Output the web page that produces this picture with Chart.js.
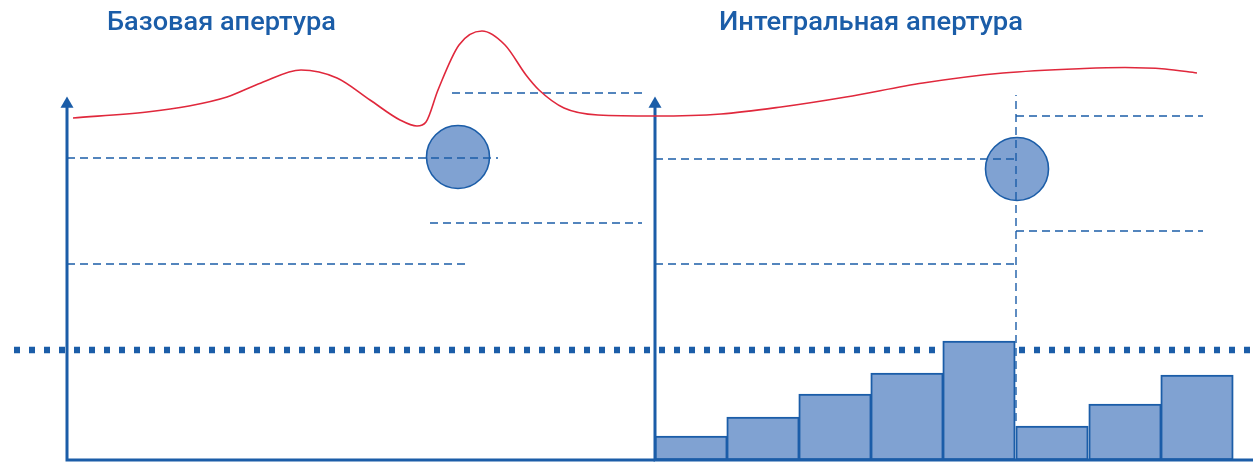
<!DOCTYPE html>
<html><head><meta charset="utf-8">
<script src="https://cdn.jsdelivr.net/npm/chart.js@4"></script>
<style>html,body{margin:0;padding:0;background:#fff}#wrap{width:1253px;height:463px;position:relative}</style>
</head><body><div id="wrap"><canvas id="c"></canvas></div>
<script>
// ---- data (units: x along the drawing, y up from the baseline) ----
const titles = ['Базовая апертура', 'Интегральная апертура'];
const titleX = [107, 719];     // left edge of each title
const titleY = 430.5;          // baseline of the titles

// histogram (integral aperture)
const binCenters = [691, 763, 835, 907, 979, 1052, 1125, 1197];
const binHeights = [24, 43, 66, 87, 119, 34, 56, 85];

// red response curve
const curveX = [73, 147, 189, 227, 261, 301, 337, 370, 400, 417, 426, 438, 459, 482, 505, 526, 539, 564, 598, 655, 721, 781, 846, 923, 1003, 1084, 1125, 1165, 1197];
const curveY = [342, 348, 354, 363, 377, 390, 382, 360, 340, 334, 338, 370, 415, 429, 415, 385, 370, 352, 345, 344, 346, 353, 363, 377, 387, 391.5, 392.5, 391, 387];

// circles (spot positions)
const spotX = [458, 1017];
const spotY = [303, 291];

// dashed reference levels: [y, xStart, xEnd]
const dashLevels = [
  [302, 67, 498], [367, 452, 642], [237, 430, 642], [196, 67, 467],
  [301, 655, 1016], [196, 655, 1016], [344, 1016, 1203], [229, 1016, 1203]
];
const dashVertical = [1016, 39, 365]; // x, yStart, yEnd
const thresholdLevel = 110;           // thick dotted line
const thresholdRange = [14, 1253];

// axes
const axisLeftX = 67, axisRightX = 655, axisTop = 356, axisEnd = 1253;

const BLUE = '#1b5da8', FILL = '#80a2d2', RED = '#e0283c';

const datasets = [];
// red curve (top)
datasets.push({type:'line', data: curveX.map((x,i)=>({x, y: curveY[i]})), borderColor: RED, borderWidth: 1.6,
  pointRadius: 0, cubicInterpolationMode: 'monotone', fill: false, order: 0});
// axes
datasets.push({type:'line', data: [{x:axisLeftX,y:axisTop},{x:axisLeftX,y:0},{x:axisRightX,y:0}], borderColor: BLUE, borderWidth: 3, pointRadius: 0, tension: 0, order: 1});
datasets.push({type:'line', data: [{x:axisRightX,y:axisTop},{x:axisRightX,y:0},{x:axisEnd,y:0}], borderColor: BLUE, borderWidth: 3, pointRadius: 0, tension: 0, order: 1});
datasets.push({type:'line', data: [{x:axisLeftX,y:axisTop},{x:axisRightX,y:axisTop}], showLine: false, pointStyle: 'triangle', pointRadius: 7.5, pointBackgroundColor: BLUE, pointBorderColor: BLUE, pointBorderWidth: 0, order: 1});
// dashed levels
dashLevels.forEach(([y,x0,x1]) => datasets.push({type:'line', data:[{x:x0,y},{x:x1,y}], borderColor: BLUE, borderWidth: 1.4, borderDash:[8,5], pointRadius:0, order: 2}));
datasets.push({type:'line', data:[{x:dashVertical[0],y:dashVertical[1]},{x:dashVertical[0],y:dashVertical[2]}], borderColor: BLUE, borderWidth: 1.4, borderDash:[8,5], pointRadius:0, order: 2});
// circles
datasets.push({type:'bubble', data: spotX.map((x,i)=>({x, y: spotY[i], r: 31.5})), backgroundColor: FILL, borderColor: BLUE, borderWidth: 1.6, order: 3});
// bars
datasets.push({type:'bar', data: binCenters.map((x,i)=>({x, y: binHeights[i]})), backgroundColor: FILL, borderColor: BLUE, borderWidth: 2,
  borderSkipped: false, barThickness: 72.5, order: 4});
// thick dotted threshold
datasets.push({type:'line', data:[{x:thresholdRange[0],y:thresholdLevel},{x:thresholdRange[1],y:thresholdLevel}], borderColor: BLUE, borderWidth: 6.5, borderDash:[6,9], borderCapStyle:'butt', pointRadius:0, order: 5});

const titlePlugin = {
  id: 'titles',
  afterDraw(chart) {
    const {ctx, scales:{x, y}} = chart;
    const widths = [229, 304];
    ctx.save();
    ctx.fillStyle = BLUE;
    ctx.font = '500 26px Roboto';
    ctx.textBaseline = 'alphabetic';
    ctx.textAlign = 'left';
    titles.forEach((t, i) => {
      const px = x.getPixelForValue(titleX[i]), py = y.getPixelForValue(titleY);
      const w = ctx.measureText(t).width;
      const s = widths[i] / w;
      ctx.save();
      ctx.translate(px, py);
      ctx.scale(s, 1);
      ctx.fillText(t, 0, 0);
      ctx.restore();
    });
    ctx.restore();
  }
};

new Chart(document.getElementById('c'), {
  type: 'scatter',
  data: { datasets },
  options: {
    responsive: true, maintainAspectRatio: false, animation: false,
    layout: { padding: 0, autoPadding: false },
    plugins: { legend: { display: false }, tooltip: { enabled: false }, title: { display: false } },
    scales: {
      x: { type: 'linear', min: 0, max: 1253, display: false, offset: false, grace: 0 },
      y: { type: 'linear', min: -3, max: 460, display: false, grace: 0 }
    }
  },
  plugins: [titlePlugin]
});
</script></body></html>
